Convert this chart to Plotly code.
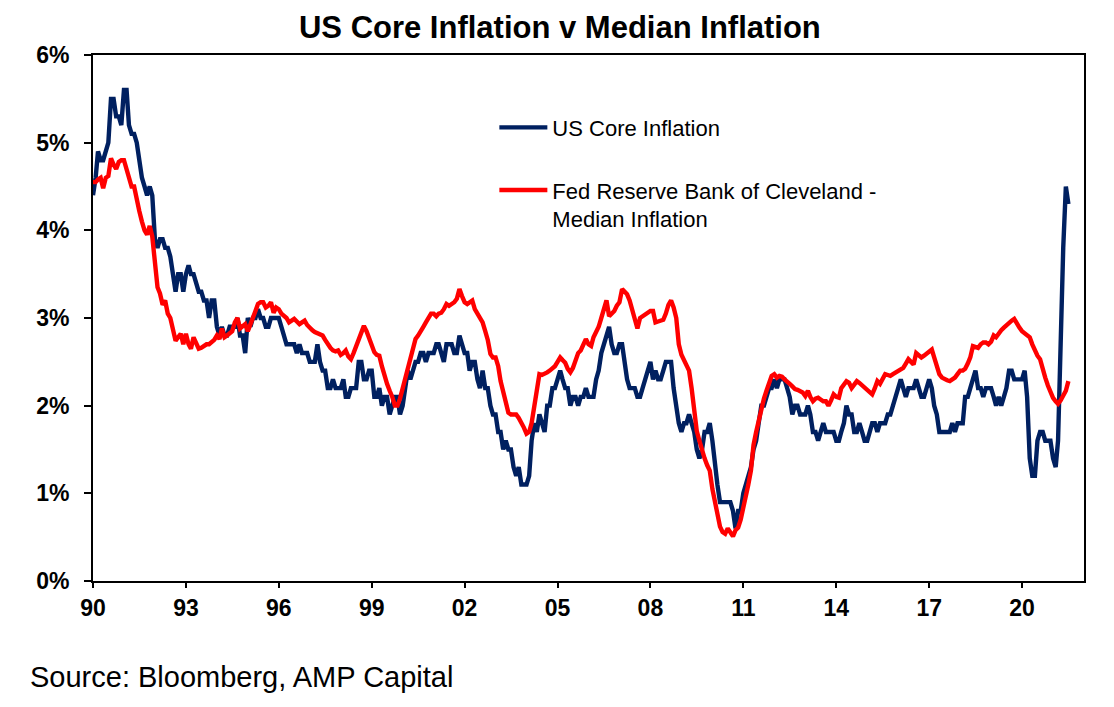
import pandas as pd
import plotly.graph_objects as go

# Monthly series, Jan 1990 .. Jul 2021 (annual % change)
core_inflation = [
    4.4, 4.6, 4.9, 4.8, 4.8, 4.9, 5.0, 5.5, 5.5, 5.3, 5.3, 5.2,   # 1990
    5.6, 5.6, 5.2, 5.1, 5.1, 5.0, 4.8, 4.6, 4.5, 4.4, 4.5, 4.4,   # 1991
    3.9, 3.8, 3.9, 3.9, 3.8, 3.8, 3.7, 3.5, 3.3, 3.5, 3.5, 3.3,   # 1992
    3.5, 3.6, 3.5, 3.5, 3.4, 3.3, 3.3, 3.2, 3.2, 3.0, 3.2, 3.2,   # 1993
    2.9, 2.8, 2.9, 2.8, 2.8, 2.9, 2.9, 2.9, 3.0, 2.8, 2.8, 2.6,   # 1994
    3.0, 2.9, 3.0, 3.0, 3.1, 3.0, 3.0, 2.9, 2.9, 3.0, 3.0, 3.0,   # 1995
    3.0, 2.9, 2.8, 2.7, 2.7, 2.7, 2.7, 2.6, 2.7, 2.6, 2.6, 2.6,   # 1996
    2.5, 2.5, 2.5, 2.7, 2.5, 2.4, 2.4, 2.2, 2.2, 2.3, 2.2, 2.2,   # 1997
    2.2, 2.3, 2.1, 2.1, 2.2, 2.2, 2.2, 2.5, 2.5, 2.3, 2.3, 2.4,   # 1998
    2.4, 2.1, 2.1, 2.2, 2.0, 2.1, 2.1, 1.9, 2.0, 2.1, 2.1, 1.9,   # 1999
    2.0, 2.2, 2.4, 2.3, 2.4, 2.5, 2.5, 2.6, 2.6, 2.5, 2.6, 2.6,   # 2000
    2.6, 2.7, 2.7, 2.6, 2.5, 2.7, 2.7, 2.7, 2.6, 2.6, 2.8, 2.7,   # 2001
    2.6, 2.6, 2.4, 2.5, 2.5, 2.3, 2.2, 2.4, 2.2, 2.2, 2.0, 1.9,   # 2002
    1.9, 1.7, 1.7, 1.5, 1.6, 1.5, 1.5, 1.3, 1.2, 1.3, 1.1, 1.1,   # 2003
    1.1, 1.2, 1.6, 1.8, 1.7, 1.9, 1.8, 1.7, 2.0, 2.0, 2.2, 2.2,   # 2004
    2.3, 2.4, 2.3, 2.2, 2.2, 2.0, 2.1, 2.1, 2.0, 2.1, 2.1, 2.2,   # 2005
    2.1, 2.1, 2.1, 2.3, 2.4, 2.6, 2.7, 2.8, 2.9, 2.7, 2.6, 2.6,   # 2006
    2.7, 2.7, 2.5, 2.3, 2.2, 2.2, 2.2, 2.1, 2.1, 2.2, 2.3, 2.4,   # 2007
    2.5, 2.3, 2.4, 2.3, 2.3, 2.4, 2.5, 2.5, 2.5, 2.2, 2.0, 1.8,   # 2008
    1.7, 1.8, 1.8, 1.9, 1.8, 1.7, 1.5, 1.4, 1.5, 1.7, 1.7, 1.8,   # 2009
    1.6, 1.3, 1.1, 0.9, 0.9, 0.9, 0.9, 0.9, 0.8, 0.6, 0.8, 0.8,   # 2010
    1.0, 1.1, 1.2, 1.3, 1.5, 1.6, 1.8, 2.0, 2.0, 2.1, 2.2, 2.2,   # 2011
    2.3, 2.2, 2.3, 2.3, 2.3, 2.2, 2.1, 1.9, 2.0, 2.0, 1.9, 1.9,   # 2012
    1.9, 2.0, 1.9, 1.7, 1.7, 1.6, 1.7, 1.8, 1.7, 1.7, 1.7, 1.7,   # 2013
    1.6, 1.6, 1.7, 1.8, 2.0, 1.9, 1.9, 1.7, 1.7, 1.8, 1.7, 1.6,   # 2014
    1.6, 1.7, 1.8, 1.8, 1.7, 1.8, 1.8, 1.8, 1.9, 1.9, 2.0, 2.1,   # 2015
    2.2, 2.3, 2.2, 2.1, 2.2, 2.2, 2.2, 2.3, 2.2, 2.1, 2.1, 2.2,   # 2016
    2.3, 2.2, 2.0, 1.9, 1.7, 1.7, 1.7, 1.7, 1.7, 1.8, 1.7, 1.8,   # 2017
    1.8, 1.8, 2.1, 2.1, 2.2, 2.3, 2.4, 2.2, 2.2, 2.1, 2.2, 2.2,   # 2018
    2.2, 2.1, 2.0, 2.1, 2.0, 2.1, 2.2, 2.4, 2.4, 2.3, 2.3, 2.3,   # 2019
    2.3, 2.4, 2.1, 1.4, 1.2, 1.2, 1.6, 1.7, 1.7, 1.6, 1.6, 1.6,   # 2020
    1.4, 1.3, 1.6, 3.0, 3.8, 4.5, 4.3,                            # 2021
]

median_inflation = [
    4.55, 4.55, 4.58, 4.6, 4.48, 4.6, 4.62, 4.82, 4.75, 4.7, 4.78, 4.8,      # 1990
    4.8, 4.7, 4.6, 4.5, 4.5, 4.32, 4.22, 4.1, 4.0, 3.95, 4.05, 3.93,         # 1991
    3.6, 3.35, 3.28, 3.15, 3.2, 3.05, 3.0, 2.85, 2.74, 2.78, 2.82, 2.7,      # 1992
    2.82, 2.7, 2.65, 2.78, 2.7, 2.65, 2.66, 2.68, 2.7, 2.7, 2.72, 2.75,      # 1993
    2.8, 2.76, 2.88, 2.78, 2.8, 2.82, 2.85, 2.95, 3.0, 2.88, 2.9, 2.93,      # 1994
    2.85, 2.95, 3.0, 3.08, 3.16, 3.18, 3.18, 3.12, 3.14, 3.18, 3.06, 3.12,   # 1995
    3.1, 3.05, 3.02, 3.0, 2.95, 2.97, 2.99, 2.96, 2.93, 2.95, 2.97, 2.92,    # 1996
    2.88, 2.86, 2.84, 2.83, 2.82, 2.8, 2.75, 2.7, 2.66, 2.63, 2.62, 2.63,    # 1997
    2.58, 2.6, 2.63, 2.56, 2.53, 2.6, 2.68, 2.78, 2.85, 2.91, 2.85, 2.76,    # 1998
    2.68, 2.61, 2.58, 2.57, 2.45, 2.32, 2.25, 2.17, 2.1, 2.0, 2.0, 2.08,     # 1999
    2.2, 2.32, 2.45, 2.55, 2.65, 2.76, 2.8, 2.86, 2.9, 2.95, 3.0, 3.05,      # 2000
    3.05, 3.02, 3.05, 3.06, 3.1, 3.16, 3.14, 3.16, 3.18, 3.22, 3.33, 3.25,   # 2001
    3.18, 3.16, 3.18, 3.2, 3.1, 3.05, 2.98, 2.95, 2.85, 2.75, 2.59, 2.55,    # 2002
    2.55, 2.45, 2.28, 2.15, 2.02, 1.92, 1.9, 1.9, 1.9, 1.86, 1.81, 1.75,     # 2003
    1.68, 1.7, 1.8, 1.98, 2.2, 2.36, 2.35, 2.36, 2.38, 2.4, 2.43, 2.45,      # 2004
    2.5, 2.55, 2.52, 2.49, 2.42, 2.38, 2.43, 2.5, 2.6, 2.63, 2.7, 2.76,      # 2005
    2.7, 2.68, 2.78, 2.83, 2.9, 3.0, 3.1, 3.2, 3.02, 3.05, 3.08, 3.14,       # 2006
    3.18, 3.33, 3.3, 3.27, 3.2, 3.08, 2.96, 2.88, 3.0, 3.02, 3.05, 3.06,     # 2007
    3.08, 3.08, 2.95, 2.96, 2.97, 2.98, 3.05, 3.15, 3.2, 3.12, 3.0, 2.7,     # 2008
    2.58, 2.52, 2.47, 2.4, 2.2, 1.95, 1.71, 1.6, 1.48, 1.4, 1.32, 1.26,      # 2009
    1.05, 0.9, 0.75, 0.62, 0.56, 0.54, 0.6, 0.55, 0.51, 0.58, 0.61, 0.7,     # 2010
    0.82, 0.95, 1.1, 1.26, 1.55, 1.7, 1.82, 1.98, 2.08, 2.17, 2.26, 2.34,    # 2011
    2.36, 2.32, 2.34, 2.33, 2.3, 2.28, 2.25, 2.22, 2.19, 2.18, 2.17, 2.15,   # 2012
    2.11, 2.17, 2.1, 2.05, 2.08, 2.09, 2.07, 2.05, 2.05, 2.0, 2.06, 2.13,    # 2013
    2.1, 2.09, 2.2, 2.25, 2.28, 2.26, 2.2, 2.24, 2.28, 2.26, 2.23, 2.2,      # 2014
    2.18, 2.15, 2.13, 2.2, 2.28, 2.25, 2.3, 2.36, 2.35, 2.34, 2.36, 2.38,    # 2015
    2.4, 2.42, 2.43, 2.48, 2.53, 2.5, 2.47, 2.6, 2.58, 2.55, 2.57, 2.59,     # 2016
    2.62, 2.64, 2.55, 2.47, 2.36, 2.32, 2.3, 2.29, 2.28, 2.3, 2.32, 2.36,    # 2017
    2.4, 2.4, 2.42, 2.48, 2.55, 2.68, 2.67, 2.66, 2.7, 2.72, 2.72, 2.7,      # 2018
    2.73, 2.8, 2.78, 2.83, 2.86, 2.89, 2.92, 2.95, 2.97, 2.99, 2.93, 2.89,   # 2019
    2.85, 2.83, 2.8, 2.78, 2.7, 2.63, 2.57, 2.53, 2.4, 2.32, 2.23, 2.15,     # 2020
    2.09, 2.05, 2.02, 2.06, 2.11, 2.17, 2.28,                                # 2021
]

start_month = "1990-01-01"
tick_years = ["1990", "1993", "1996", "1999", "2002", "2005", "2008",
              "2011", "2014", "2017", "2020"]
tick_labels = ["90", "93", "96", "99", "02", "05", "08", "11", "14", "17", "20"]
y_ticks = [0, 1, 2, 3, 4, 5, 6]
y_labels = ["0%", "1%", "2%", "3%", "4%", "5%", "6%"]

dates = pd.date_range(start_month, periods=len(core_inflation), freq="MS")

FONT = "Arial, 'Liberation Sans', sans-serif"
NAVY = "#002060"
RED = "#FF0000"

fig = go.Figure()
fig.add_trace(go.Scatter(
    x=dates, y=core_inflation, mode="lines", name="US Core Inflation",
    legendgroup="a", line=dict(color=NAVY, width=4.4)))
fig.add_trace(go.Scatter(
    x=dates, y=median_inflation, mode="lines",
    name="Fed Reserve Bank of Cleveland -<br>Median Inflation",
    legendgroup="b", line=dict(color=RED, width=4.4)))

fig.update_layout(
    width=1106, height=699,
    margin=dict(l=85, r=30, t=47, b=126),
    paper_bgcolor="white", plot_bgcolor="white",
    font=dict(family=FONT, color="black"),
    title=dict(text="<b>US Core Inflation v Median Inflation</b>",
               x=0.499, xanchor="center", y=1 - 19 / 699, yanchor="middle",
               font=dict(size=31, family=FONT, color="black")),
    showlegend=True,
    legend=dict(x=0.405, xanchor="left", y=0.902, yanchor="top",
                bgcolor="rgba(0,0,0,0)", borderwidth=0,
                font=dict(size=22, family=FONT, color="black"),
                valign="top", tracegroupgap=31, itemwidth=48),
)

fig.update_xaxes(
    type="date",
    range=["1990-01-01", "2022-01-01"],
    tickvals=[pd.Timestamp(y + "-01-01") for y in tick_years],
    ticktext=tick_labels,
    ticks="outside", ticklen=5, tickwidth=2, tickcolor="black",
    showline=True, linecolor="black", linewidth=2, mirror=True,
    showgrid=False, zeroline=False,
    tickfont=dict(size=23, family=FONT, color="black", weight="bold"),
)
fig.update_yaxes(
    range=[0, 6],
    tickvals=y_ticks, ticktext=y_labels,
    ticks="outside", ticklen=7, tickwidth=2, tickcolor="black",
    showline=True, linecolor="black", linewidth=2, mirror=True,
    showgrid=False, zeroline=False, ticklabelstandoff=10,
    tickfont=dict(size=23, family=FONT, color="black", weight="bold"),
)

fig.add_annotation(
    text="Source: Bloomberg, AMP Capital",
    xref="paper", yref="paper", x=-0.0656, y=-0.183,
    xanchor="left", yanchor="middle", showarrow=False,
    font=dict(size=29, family=FONT, color="black"))

fig.write_html("out.html")
